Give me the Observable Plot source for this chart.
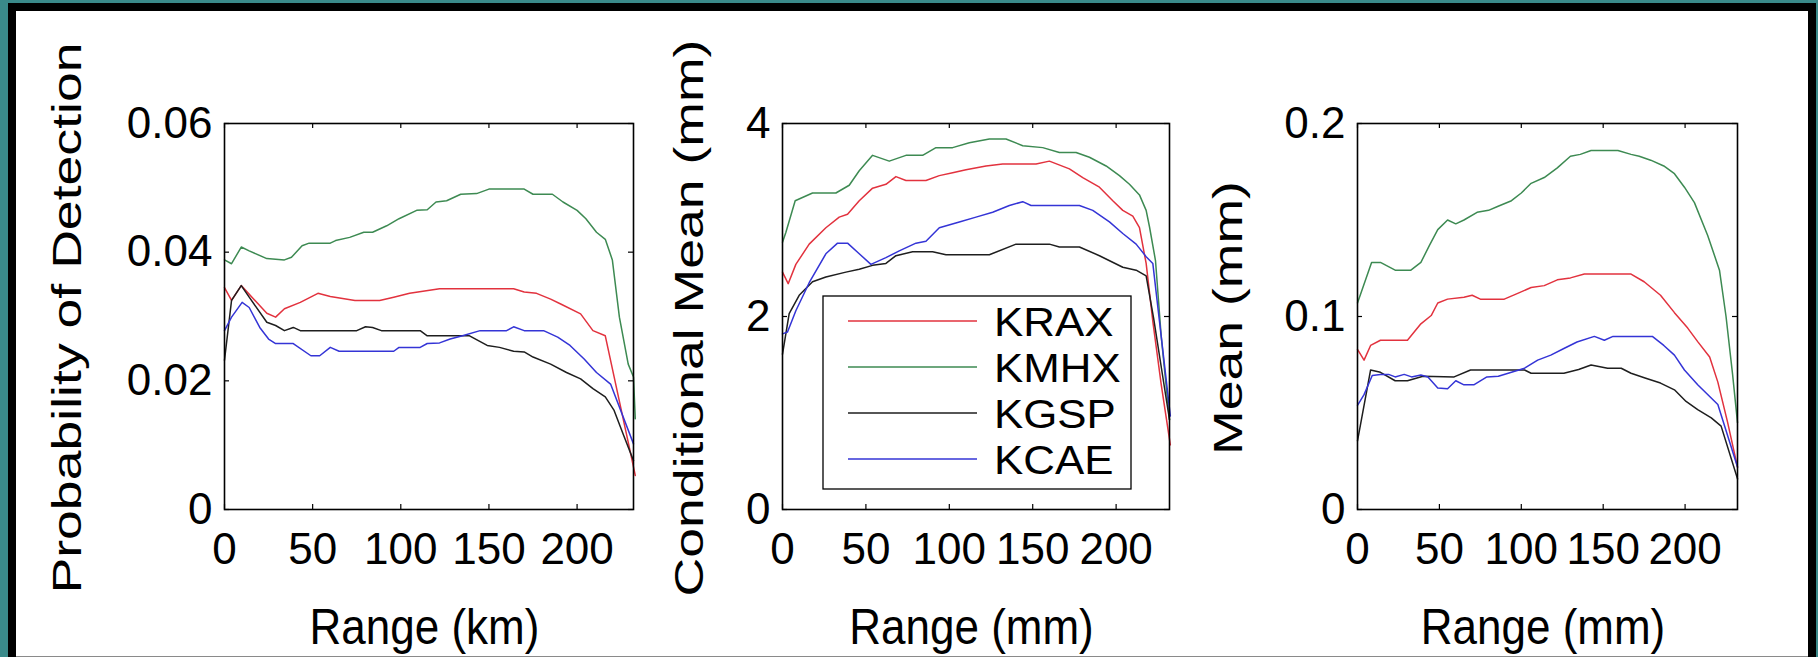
<!DOCTYPE html>
<html>
<head>
<meta charset="utf-8">
<script src="https://cdn.jsdelivr.net/npm/d3@7"></script>
<script src="https://cdn.jsdelivr.net/npm/@observablehq/plot@0.6"></script>
<style>
  html, body { margin: 0; padding: 0; }
  body { width: 1818px; height: 657px; background: #3a8a8a; overflow: hidden; position: relative; }
  #outer { position: absolute; left: 8px; top: 3px; width: 1808px; height: 654px; background: #000; }
  #inner { position: absolute; left: 16px; top: 11px; width: 1792px; height: 645px; background: #fff; border-bottom: 1px solid #8a8a8a; }
  #chart { position: absolute; left: 0; top: 0; width: 1818px; height: 657px; }
  #chart svg { position: absolute; left: 0; top: 0; }
</style>
</head>
<body>
<div id="outer"></div>
<div id="inner"></div>
<div id="chart"></div>
<script>
const FONT = "'Liberation Sans', Arial, Helvetica, sans-serif";
const STATIONS = ["KRAX", "KMHX", "KGSP", "KCAE"];
const COLORS = ["#e2323e", "#3d8a52", "#1e1e1e", "#3434d6"];
const X_TICKS = [0, 50, 100, 150, 200];
const X_MAX = 232;

// Panel 1: Probability of Detection vs Range (km)   [range, value]
const POD_KRAX = [[0,.0345],[4,.0325],[9.5,.0348],[24,.0305],[29,.0299],[34,.0312],[43,.0322],[53,.0336],[60,.0331],[74,.0325],[88,.0325],[96,.033],[105,.0336],[122,.0343],[164,.0343],[170,.0338],[177,.0336],[185,.0327],[191,.0319],[202,.0304],[209,.0278],[216,.027],[230,.0092],[233,.0053]];
const POD_KMHX = [[0,.0388],[4,.0382],[9.5,.0408],[14,.0402],[24,.039],[34,.0388],[38,.0392],[44,.041],[48,.0414],[60,.0414],[63,.0418],[71,.0423],[79,.0431],[84,.0431],[92,.0441],[99,.0452],[109,.0465],[115,.0466],[120,.0478],[126,.048],[134,.049],[143,.0491],[150,.0498],[170,.0498],[175,.049],[186,.049],[192,.0478],[200,.0465],[205,.0452],[211,.0431],[216,.042],[220,.0388],[224,.0299],[229,.0226],[232,.0206],[233,.0141]];
const POD_KGSP = [[0,.0232],[4,.0325],[9.5,.0348],[14,.033],[24,.0291],[29,.0286],[34,.0278],[39,.0283],[43,.0278],[75,.0278],[80,.0284],[84,.0283],[89,.0278],[111,.0278],[115,.027],[139,.027],[149,.0255],[156,.0252],[164,.0246],[170,.0245],[175,.0237],[185,.0226],[194,.0213],[202,.0203],[209,.0188],[216,.0175],[221,.0154],[226,.0118],[232,.0076]];
const POD_KCAE = [[0,.0278],[4,.0299],[10,.0322],[14,.0314],[20,.0283],[25,.0265],[29,.0258],[39,.0258],[49,.0239],[54,.0239],[60,.0252],[65,.0246],[96,.0246],[99,.0252],[111,.0252],[115,.0258],[122,.0259],[128,.0265],[135,.027],[145,.0278],[160,.0278],[164,.0284],[170,.0278],[181,.0278],[189,.0268],[196,.0255],[204,.0234],[211,.0213],[219,.0195],[232,.0102]];
const POD_TICKS = [0, 0.02, 0.04, 0.06];

// Panel 2: Conditional Mean (mm)
const CM_KRAX = [[0,2.46],[3.4,2.34],[8,2.54],[16,2.75],[26,2.92],[34,3.03],[39,3.06],[46,3.2],[54,3.33],[62,3.37],[68,3.45],[74,3.41],[86,3.41],[94,3.46],[102,3.49],[110,3.52],[122,3.56],[132,3.58],[152,3.58],[160,3.61],[172,3.53],[180,3.44],[190,3.34],[198,3.2],[204,3.1],[210,3.04],[214,2.92],[218,2.55],[222,1.95],[227,1.3],[232.5,0.67]];
const CM_KMHX = [[0,2.77],[2,2.87],[7.6,3.2],[18,3.28],[32,3.28],[40,3.36],[46,3.51],[54,3.67],[64,3.61],[74,3.67],[84,3.67],[92,3.75],[102,3.75],[112,3.8],[124,3.84],[134,3.84],[144,3.77],[156,3.75],[166,3.7],[176,3.7],[184,3.65],[194,3.56],[202,3.46],[208,3.37],[214,3.26],[218,3.1],[220,2.93],[223.6,2.58],[227,1.8],[232,0.93]];
const CM_KGSP = [[0,1.61],[4,2.03],[10,2.22],[18,2.36],[26,2.41],[38,2.46],[46,2.49],[54,2.53],[62,2.55],[68,2.63],[78,2.67],[90,2.67],[98,2.64],[124,2.64],[140,2.75],[160,2.75],[166,2.72],[178,2.72],[190,2.63],[204,2.51],[212,2.48],[218,2.42],[222.5,1.98],[232,0.93]];
const CM_KCAE = [[0,1.82],[3,1.84],[8,2.06],[16,2.35],[26,2.65],[33,2.76],[39,2.76],[46,2.65],[53,2.54],[62,2.61],[70,2.68],[80,2.76],[86,2.78],[94,2.92],[106,2.98],[116,3.03],[126,3.08],[136,3.15],[144,3.19],[149,3.15],[178,3.15],[186,3.1],[196,2.98],[204,2.86],[212,2.75],[218,2.62],[222,2.55],[227,1.8],[232.5,0.97]];
const CM_TICKS = [0, 2, 4];

// Panel 3: Mean (mm)
const MEAN_KRAX = [[0,.083],[4,.0774],[8,.085],[14,.0877],[30.5,.0877],[38.7,.0962],[45,.1005],[49,.107],[55,.109],[65,.11],[70,.111],[75,.109],[89.6,.109],[97.8,.112],[106,.115],[114,.116],[122,.119],[130,.12],[138.5,.122],[167,.122],[175,.118],[185,.111],[193.5,.102],[201.6,.094],[207.7,.087],[215,.079],[220,.066],[226,.045],[232,.022]];
const MEAN_KMHX = [[0,.107],[8.6,.128],[14,.128],[23,.124],[32.6,.124],[38.7,.128],[44,.137],[49,.145],[55,.15],[60,.148],[65,.15],[73,.154],[80,.155],[85.5,.157],[94,.16],[100,.164],[106,.169],[114,.172],[122,.177],[130,.183],[136,.184],[142.6,.186],[159,.186],[167,.184],[172,.183],[179,.181],[187,.178],[193.5,.174],[199.6,.167],[205.7,.159],[213.8,.142],[221,.124],[225,.1],[229,.07],[232,.045]];
const MEAN_KGSP = [[0,.0356],[8,.0723],[14,.0711],[23,.0667],[30.5,.0667],[40,.069],[59,.0687],[69,.0723],[102,.0723],[106,.0706],[126,.0706],[135,.0725],[142.6,.0749],[152.7,.0732],[161,.0732],[167,.0706],[176,.068],[185,.0655],[193.5,.062],[200.6,.056],[207.7,.0518],[216,.0475],[222,.0432],[232,.0159]];
const MEAN_KCAE = [[0,.054],[4,.0595],[9,.0694],[14,.07],[19,.07],[23,.0687],[28.5,.07],[33,.0687],[38.7,.0697],[43,.0687],[49,.0629],[55,.0626],[60,.0667],[65,.0646],[71,.0646],[79,.0687],[86,.069],[94,.0711],[102,.0732],[110,.0774],[118,.08],[126,.0834],[134,.0868],[144.6,.0897],[150.7,.0877],[156,.0897],[180,.0897],[187,.085],[193.5,.08],[199.6,.0723],[207.7,.0646],[220,.0544],[232,.022]];
const MEAN_TICKS = [0, 0.1, 0.2];

const TOP = 123, BOTTOM = 509, TICK = 5;

function panel({left, right, ticks, series, ylabel, xlabel, ylabelX, legend}) {
  const W = right - left, H = BOTTOM - TOP;
  const rows = [];
  series.forEach((pts, i) => pts.forEach(([r, v]) => rows.push({station: STATIONS[i], range: r, value: v})));
  const svg = Plot.plot({
    width: 1818, height: 657,
    marginLeft: left, marginRight: 1818 - right, marginTop: TOP, marginBottom: 657 - BOTTOM,
    style: {background: "transparent", color: "black", fontFamily: FONT, overflow: "visible"},
    x: {domain: [0, X_MAX]},
    y: {domain: [0, ticks[ticks.length - 1]]},
    color: {domain: STATIONS, range: COLORS},
    marks: [
      Plot.line(rows, {x: "range", y: "value", z: "station", stroke: "station", strokeWidth: 1.5, strokeLinejoin: "round"}),
      Plot.ruleX(X_TICKS, {x: d => d, insetTop: H - TICK, stroke: "black", strokeWidth: 1.2}),
      Plot.ruleX(X_TICKS, {x: d => d, insetBottom: H - TICK, stroke: "black", strokeWidth: 1.2}),
      Plot.ruleY(ticks, {y: d => d, insetRight: W - TICK, stroke: "black", strokeWidth: 1.2}),
      Plot.ruleY(ticks, {y: d => d, insetLeft: W - TICK, stroke: "black", strokeWidth: 1.2}),
      Plot.frame({stroke: "black", strokeWidth: 1.6}),
      Plot.axisX({ticks: X_TICKS, tickSize: 0, tickPadding: 23, fontSize: 44, label: null, tickFormat: d => String(d)}),
      Plot.axisY({ticks: ticks, tickSize: 0, tickPadding: 12, fontSize: 44, label: null, tickFormat: d => String(d)})
    ]
  });
  const s = d3.select(svg);
  s.append("text")
    .attr("transform", `translate(${ylabelX},318) rotate(-90) scale(1.34,1)`)
    .attr("text-anchor", "middle").attr("font-size", 40).attr("fill", "black")
    .text(ylabel);
  s.append("text")
    .attr("transform", `translate(${(left + right) / 2 - 4},644) scale(1,1.12)`)
    .attr("text-anchor", "middle").attr("font-size", 44).attr("fill", "black")
    .text(xlabel);
  if (legend) {
    const g = s.append("g");
    g.append("rect").attr("x", 823).attr("y", 296).attr("width", 308).attr("height", 193)
      .attr("fill", "white").attr("stroke", "black").attr("stroke-width", 1.3);
    STATIONS.forEach((name, i) => {
      const y = 321 + i * 46;
      g.append("line").attr("x1", 848).attr("x2", 977).attr("y1", y).attr("y2", y)
        .attr("stroke", COLORS[i]).attr("stroke-width", 1.5);
      g.append("text").attr("transform", `translate(994,${y + 15}) scale(1.07,1)`)
        .attr("text-anchor", "start")
        .attr("font-size", 41).attr("fill", "black").text(name);
    });
  }
  document.getElementById("chart").appendChild(svg);
}

panel({left: 224, right: 633, ticks: POD_TICKS, series: [POD_KRAX, POD_KMHX, POD_KGSP, POD_KCAE],
  ylabel: "Probability of Detection", xlabel: "Range (km)", ylabelX: 81});
panel({left: 782, right: 1169, ticks: CM_TICKS, series: [CM_KRAX, CM_KMHX, CM_KGSP, CM_KCAE],
  ylabel: "Conditional Mean (mm)", xlabel: "Range (mm)", ylabelX: 703, legend: true});
panel({left: 1357, right: 1737, ticks: MEAN_TICKS, series: [MEAN_KRAX, MEAN_KMHX, MEAN_KGSP, MEAN_KCAE],
  ylabel: "Mean (mm)", xlabel: "Range (mm)", ylabelX: 1242});
</script>
</body>
</html>
